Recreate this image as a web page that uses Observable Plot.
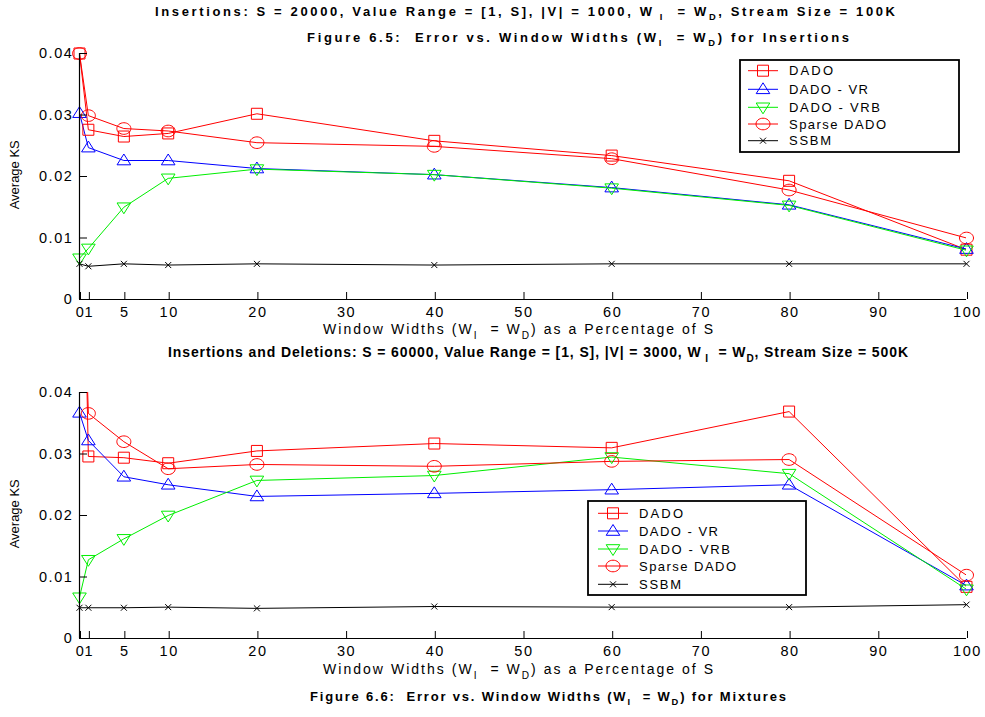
<!DOCTYPE html>
<html><head><meta charset="utf-8">
<script src="https://cdn.jsdelivr.net/npm/d3@7"></script>
<script src="https://cdn.jsdelivr.net/npm/@observablehq/plot@0.6"></script>
<style>
body{margin:0;background:#fff;}
#root{position:relative;width:985px;height:717px;overflow:hidden;font-family:"Liberation Sans",Arial,Helvetica,sans-serif;color:#000;}
.t{position:absolute;white-space:nowrap;line-height:1.2;}
.t sub{font-size:0.72em;vertical-align:-0.45em;line-height:0;}
.abs{position:absolute;}
</style></head><body><div id="root"></div>
<script>
// ---------- data ----------
const widths = [0, 1, 5, 10, 20, 40, 60, 80, 100];
const seriesNames = ["DADO", "DADO - VR", "DADO - VRB", "Sparse DADO", "SSBM"];
const xTicks = [0, 1, 5, 10, 20, 30, 40, 50, 60, 70, 80, 90, 100];
const yTicks = [0, 0.01, 0.02, 0.03, 0.04];

// Figure 6.5 (insertions)
const ins_DADO   = [0.0400, 0.0276, 0.0265, 0.0270, 0.0302, 0.0258, 0.0234, 0.0193, 0.0081];
const ins_VR     = [0.0303, 0.0247, 0.0226, 0.0226, 0.0213, 0.0203, 0.0182, 0.0154, 0.0082];
const ins_VRB    = [0.0067, 0.0083, 0.0150, 0.0197, 0.0212, 0.0203, 0.0181, 0.0153, 0.0080];
const ins_Sparse = [0.0400, 0.0299, 0.0278, 0.0274, 0.0255, 0.0249, 0.0229, 0.0178, 0.0100];
const ins_SSBM   = [0.0058, 0.0054, 0.0058, 0.0056, 0.0058, 0.0056, 0.0058, 0.0058, 0.0058];

// Figure 6.6 (mixtures) — values at 0 for DADO / Sparse DADO exceed the axis
const mix_DADO   = [0.1000, 0.0296, 0.0294, 0.0285, 0.0305, 0.0317, 0.0310, 0.0369, 0.0084];
const mix_VR     = [0.0367, 0.0322, 0.0263, 0.0250, 0.0231, 0.0236, 0.0242, 0.0250, 0.0086];
const mix_VRB    = [0.0067, 0.0128, 0.0162, 0.0200, 0.0257, 0.0265, 0.0295, 0.0268, 0.0080];
const mix_Sparse = [0.0800, 0.0366, 0.0320, 0.0276, 0.0283, 0.0280, 0.0288, 0.0291, 0.0103];
const mix_SSBM   = [0.0050, 0.0050, 0.0050, 0.0051, 0.0049, 0.0052, 0.0051, 0.0051, 0.0055];

const colors = ["#ff0000", "#0000ff", "#00ee00", "#ff0000", "#000000"];

// ---------- symbols ----------
const K = 0.5523;
const symSquare = {draw(c){ c.rect(-5.5, -5.5, 11, 11); }};
const symTriUp = {draw(c){ c.moveTo(0, -6.5); c.lineTo(6.8, 4.3); c.lineTo(-6.8, 4.3); c.closePath(); }};
const symTriDown = {draw(c){ c.moveTo(0, 6.5); c.lineTo(6.8, -4.3); c.lineTo(-6.8, -4.3); c.closePath(); }};
const symEllipse = {draw(c){
  const rx = 7, ry = 5.8;
  c.moveTo(rx, 0);
  c.bezierCurveTo(rx, ry*K, rx*K, ry, 0, ry);
  c.bezierCurveTo(-rx*K, ry, -rx, ry*K, -rx, 0);
  c.bezierCurveTo(-rx, -ry*K, -rx*K, -ry, 0, -ry);
  c.bezierCurveTo(rx*K, -ry, rx, -ry*K, rx, 0);
  c.closePath();
}};
const symTimes = {draw(c){ c.moveTo(-3,-3); c.lineTo(3,3); c.moveTo(-3,3); c.lineTo(3,-3); }};
const symbols = [symSquare, symTriUp, symTriDown, symEllipse, symTimes];

const root = document.getElementById("root");
const FONT = '"Liberation Sans", Arial, Helvetica, sans-serif';

function chart(series) {
  const marks = [];
  series.forEach((vals, i) => {
    const data = widths.map((w, j) => ({w, v: vals[j]}));
    marks.push(Plot.line(data, {x: "w", y: "v", stroke: colors[i], strokeWidth: 1, clip: true}));
  });
  series.forEach((vals, i) => {
    const data = widths.map((w, j) => ({w, v: vals[j]})).filter(d => d.v <= 0.0401);
    marks.push(Plot.dot(data, {x: "w", y: "v", stroke: colors[i], fill: "none", strokeWidth: 1, symbol: symbols[i], r: 5}));
  });
  marks.push(Plot.ruleY([0], {stroke: "#000", strokeWidth: 1.2}));
  marks.push(Plot.ruleX([0], {stroke: "#000", strokeWidth: 1.2}));
  marks.push(Plot.axisX(xTicks, {tickSize: -7, tickPadding: 14, tickFormat: d => String(d), label: null, fontSize: 14.5, dx: 1}));
  marks.push(Plot.axisY(yTicks, {tickSize: -8, tickPadding: 14, tickFormat: d => d === 0 ? "0" : String(d), label: null, fontSize: 14.5}));
  return Plot.plot({
    width: 985, height: 289,
    marginLeft: 79, marginRight: 19, marginTop: 13, marginBottom: 30,
    x: {domain: [0, 100]},
    y: {domain: [0, 0.04]},
    style: {fontFamily: FONT, fontSize: "14px", letterSpacing: "1.6px", background: "transparent", overflow: "visible", color: "#000"},
    marks
  });
}

function placeSvg(el, left, top) {
  el.classList.add("abs");
  el.style.left = left + "px";
  el.style.top = top + "px";
  root.appendChild(el);
}

placeSvg(chart([ins_DADO, ins_VR, ins_VRB, ins_Sparse, ins_SSBM]), 0, 40);
placeSvg(chart([mix_DADO, mix_VR, mix_VRB, mix_Sparse, mix_SSBM]), 0, 379);

// ---------- texts ----------
function fitText(html, x1, x2, yc, style) {
  const d = document.createElement("div");
  d.className = "t";
  Object.assign(d.style, style);
  d.innerHTML = html;
  root.appendChild(d);
  const n = d.textContent.length;
  const w0 = d.getBoundingClientRect().width;
  d.style.letterSpacing = ((x2 - x1 - w0) / (n - 1)) + "px";
  const r = d.getBoundingClientRect();
  d.style.left = x1 + "px";
  d.style.top = (yc - r.height / 2) + "px";
  return d;
}
const bold = {fontWeight: "bold", fontSize: "13px"};
const norm = {fontSize: "14px"};
fitText("Insertions: S = 20000, Value Range = [1, S], |V| = 1000, W<sub>&nbsp;I</sub> &nbsp;= W<sub>D</sub>, Stream Size = 100K", 155, 895, 12, bold);
fitText("Figure 6.5:&nbsp; Error vs. Window Widths (W<sub>I</sub> &nbsp;= W<sub>D</sub>) for Insertions", 307, 849, 38, bold);
fitText("Window Widths (W<sub>I</sub> &nbsp;= W<sub>D</sub>) as a Percentage of S", 323, 713, 329, norm);
fitText("Insertions and Deletions: S = 60000, Value Range = [1, S], |V| = 3000, W<sub>&nbsp;I</sub> &nbsp;= W<sub>D</sub>, Stream Size = 500K", 168, 908, 353, {fontWeight: "bold", fontSize: "14px", transform: "scaleY(1.05)"});
fitText("Window Widths (W<sub>I</sub> &nbsp;= W<sub>D</sub>) as a Percentage of S", 323, 713, 669, norm);
fitText("Figure 6.6:&nbsp; Error vs. Window Widths (W<sub>I</sub> &nbsp;= W<sub>D</sub>) for Mixtures", 310, 786, 697, bold);

function yLabel(cx, cy) {
  const d = document.createElement("div");
  d.className = "t";
  d.style.fontSize = "13px";
  d.textContent = "Average KS";
  root.appendChild(d);
  const r = d.getBoundingClientRect();
  d.style.left = (cx - r.width / 2) + "px";
  d.style.top = (cy - r.height / 2) + "px";
  d.style.transform = "rotate(-90deg)";
}
yLabel(15, 175);
yLabel(15, 514);

// ---------- legends ----------
const legendWidths = [44, 79, 91, 97, 42];
function legend(x, y, w, h, rows, sx1, sx2, tx) {
  const svg = d3.create("svg").attr("width", w + 4).attr("height", h + 4)
    .style("position", "absolute").style("left", (x - 2) + "px").style("top", (y - 2) + "px");
  svg.append("rect").attr("x", 2).attr("y", 2).attr("width", w).attr("height", h)
    .attr("fill", "#fff").attr("stroke", "#000").attr("stroke-width", 1.8);
  seriesNames.forEach((name, i) => {
    const ry = rows[i] - y + 2;
    svg.append("line").attr("x1", sx1 - x + 2).attr("x2", sx2 - x + 2).attr("y1", ry).attr("y2", ry)
      .attr("stroke", colors[i]).attr("stroke-width", 1);
    const p = d3.path();
    symbols[i].draw(p);
    svg.append("path").attr("d", p.toString())
      .attr("transform", `translate(${(sx1 + sx2) / 2 - x + 2},${ry})`)
      .attr("fill", "none").attr("stroke", colors[i]).attr("stroke-width", 1);
    svg.append("text").attr("x", tx - x + 2).attr("y", ry).attr("dy", "0.36em")
      .attr("font-family", FONT).attr("font-size", 13)
      .attr("textLength", legendWidths[i]).attr("lengthAdjust", "spacing")
      .text(name);
  });
  root.appendChild(svg.node());
}
legend(740, 60, 219, 92, [70.7, 89.3, 107.3, 124, 140.7], 748, 778, 789);
legend(588, 501, 218, 94, [513.3, 531, 549, 566, 584.3], 598, 628, 639);
</script></body></html>
